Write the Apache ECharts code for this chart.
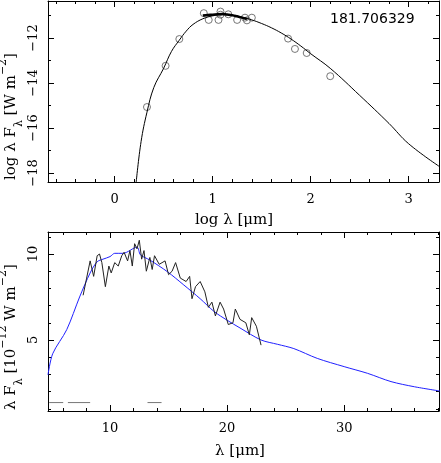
<!DOCTYPE html>
<html>
<head>
<meta charset="utf-8">
<script src="https://cdn.jsdelivr.net/npm/echarts@6/dist/echarts.min.js"></script>
</head>
<body style="margin:0">
<div id="main" style="width:441px;height:463px;"></div>
<script>
// top panel: log lambda vs log lambda F_lambda
var sedModelX = [0.22,0.27,0.33,0.40,0.50,0.58,0.66,0.73,0.80,0.90,1.00,1.10,1.20,1.30,1.40,1.50,1.60,1.70,1.80,1.90,2.00,2.20,2.50,2.80,3.00,3.31];
var sedModelY = [-18.4,-16.6,-15.3,-14.2,-13.35,-12.6,-12.1,-11.7,-11.4,-11.15,-11.02,-10.97,-11.0,-11.08,-11.2,-11.36,-11.55,-11.78,-12.05,-12.36,-12.7,-13.35,-14.55,-15.8,-16.7,-17.7];
var photX = [0.33,0.52,0.66,0.91,0.96,1.06,1.08,1.08,1.16,1.25,1.33,1.35,1.40,1.77,1.84,1.96,2.20];
var photY = [-15.07,-13.24,-12.05,-10.9,-11.2,-11.2,-10.83,-10.97,-10.95,-11.2,-11.1,-11.22,-11.1,-12.03,-12.49,-12.67,-13.7];
var irsLogX = [0.90,0.95,1.00,1.05,1.10,1.15,1.20,1.25,1.30,1.35];
var irsLogY = [-11.0,-10.98,-10.97,-10.95,-10.94,-10.96,-10.99,-11.04,-11.1,-11.16];

// bottom panel: lambda vs lambda F_lambda (1e-12 W m^-2)
var modelLam = [4.7,5.1,6.3,7.4,8.3,8.9,9.4,10.0,10.4,11.1,12.3,12.6,13.4,14.9,16.3,17.7,18.9,20.0,21.1,22.9,24.3,25.7,27.7,30.0,32.0,34.0,36.0,38.2];
var modelFlux = [2.97,4.2,5.6,7.5,8.9,9.55,9.7,9.85,10.04,10.04,10.4,9.95,9.65,8.97,8.2,7.4,6.65,6.15,5.7,5.0,4.75,4.5,3.93,3.45,3.06,2.58,2.28,2.03];
var specLam = [7.7,8.0,8.3,8.6,8.9,9.1,9.3,9.6,9.9,10.1,10.4,10.7,11.0,11.2,11.5,11.7,11.9,12.1,12.3,12.5,12.7,12.9,13.1,13.4,13.6,13.8,14.2,14.7,15.0,15.3,15.6,16.0,16.5,16.8,17.0,17.3,17.7,18.1,18.4,18.7,19.0,19.4,19.7,20.1,20.5,20.7,21.1,21.6,21.9,22.1,22.5,22.9];
var specFlux = [7.6,8.6,9.6,8.7,9.9,10.0,9.5,8.1,9.3,8.9,9.5,9.3,9.9,10.1,9.6,10.2,9.3,10.6,10.3,10.8,9.7,10.2,9.0,9.8,9.1,9.9,9.4,9.6,8.8,9.0,9.5,8.6,8.4,8.7,7.4,8.1,8.4,7.8,6.9,7.2,6.4,7.2,6.8,5.9,6.0,6.8,6.2,6.0,5.3,6.3,5.8,4.7];
var gapLam = [4.8,6.0,null,6.4,8.3,null,13.2,14.4];
var gapFlux = [1.36,1.36,null,1.36,1.36,null,1.36,1.36];

function pairs(xs, ys) {
    return xs.map(function(x, i) { return x === null ? [null, null] : [x, ys[i]]; });
}
function ticks(min, max, step) {
    var out = [];
    for (var v = Math.ceil(min / step - 1e-9) * step; v <= max + 1e-9; v += step) out.push(+v.toFixed(6));
    return out;
}
var font = 'DejaVu Serif';
var fmt = function(v) { return String(v).replace('-', '\u2212'); };

var xAxes = [], yAxes = [];
function addAxes(list, gi, min, max, major, minor, pos, labelled, rot) {
    [[major, 6], [minor, 3]].forEach(function(t, k) {
        list.push({
            type: 'value', gridIndex: gi, min: min, max: max, position: pos,
            axisLine: {show: k === 0, onZero: false, lineStyle: {color: '#000', width: 1}},
            splitLine: {show: false},
            axisTick: {show: true, inside: true, length: t[1], customValues: ticks(min, max, t[0]), lineStyle: {color: '#000'}},
            axisLabel: {show: labelled && k === 0, customValues: ticks(min, max, t[0]), formatter: fmt,
                fontFamily: font, fontSize: 13, color: '#000', rotate: rot || 0, margin: rot ? 8 : 11}
        });
    });
}
// grid 0 axes: x index 0 is labelled bottom
addAxes(xAxes, 0, -0.68, 3.31, 1, 0.2, 'bottom', true);
addAxes(xAxes, 0, -0.68, 3.31, 1, 0.2, 'top', false);
addAxes(yAxes, 0, -18.4, -10.36, 2, 1, 'left', true, 90);
addAxes(yAxes, 0, -18.4, -10.36, 2, 1, 'right', false);
// grid 1 axes: x index 4, y index 4
addAxes(xAxes, 1, 4.7, 38.1, 10, 2, 'bottom', true);
addAxes(xAxes, 1, 4.7, 38.1, 10, 2, 'top', false);
addAxes(yAxes, 1, 0.87, 11.28, 5, 1, 'left', true, 90);
addAxes(yAxes, 1, 0.87, 11.28, 5, 1, 'right', false);

var rich = {
    b: {fontFamily: font, fontSize: 15, fill: '#000'},
    s: {fontFamily: font, fontSize: 11, fill: '#000', verticalAlign: 'bottom', padding: [0, 0, -6, 0]},
    p: {fontFamily: font, fontSize: 11, fill: '#000', verticalAlign: 'top', padding: [-6, 0, 0, 0]}
};

var myChart = echarts.init(document.getElementById('main'));
myChart.setOption({
    animation: false,
    backgroundColor: '#fff',
    grid: [
        {left: 48, top: 1, width: 391, height: 181},
        {left: 48, top: 232, width: 391, height: 179}
    ],
    xAxis: xAxes,
    yAxis: yAxes,
    graphic: [
        {type: 'text', left: 330, top: 12, style: {text: '181.706329', font: '14px "DejaVu Sans"', fill: '#000'}},
        {type: 'text', x: 195, y: 213, style: {text: 'log λ [μm]', font: '15px "DejaVu Serif"', fill: '#000'}},
        {type: 'text', x: 215, y: 444, style: {text: 'λ [μm]', font: '15px "DejaVu Serif"', fill: '#000'}},
        {type: 'text', x: 4, y: 180, rotation: Math.PI / 2,
            style: {text: '{b|log λ F}{s|λ}{b| [W m}{p|−2}{b|]}', rich: rich}},
        {type: 'text', x: 4, y: 410, rotation: Math.PI / 2,
            style: {text: '{b|λ F}{s|λ}{b| [10}{p|−12}{b| W m}{p|−2}{b|]}', rich: rich}}
    ],
    series: [
        {type: 'line', xAxisIndex: 0, yAxisIndex: 0, data: pairs(sedModelX, sedModelY), smooth: 0.4,
            showSymbol: false, lineStyle: {color: '#000', width: 1}},
        {type: 'line', xAxisIndex: 0, yAxisIndex: 0, data: pairs(irsLogX, irsLogY), smooth: true,
            showSymbol: false, lineStyle: {color: '#000', width: 2.5}},
        {type: 'scatter', xAxisIndex: 0, yAxisIndex: 0, data: pairs(photX, photY), symbolSize: 7,
            itemStyle: {color: 'rgba(0,0,0,0)', borderColor: '#555', borderWidth: 1}},
        {type: 'line', xAxisIndex: 4, yAxisIndex: 4, data: pairs(modelLam, modelFlux), smooth: 0.3,
            showSymbol: false, lineStyle: {color: '#2020ff', width: 1}},
        {type: 'line', xAxisIndex: 4, yAxisIndex: 4, data: pairs(specLam, specFlux),
            showSymbol: false, lineStyle: {color: '#222', width: 1}},
        {type: 'line', xAxisIndex: 4, yAxisIndex: 4, data: pairs(gapLam, gapFlux), connectNulls: false,
            showSymbol: false, lineStyle: {color: '#777', width: 1}}
    ]
});
</script>
</body>
</html>
